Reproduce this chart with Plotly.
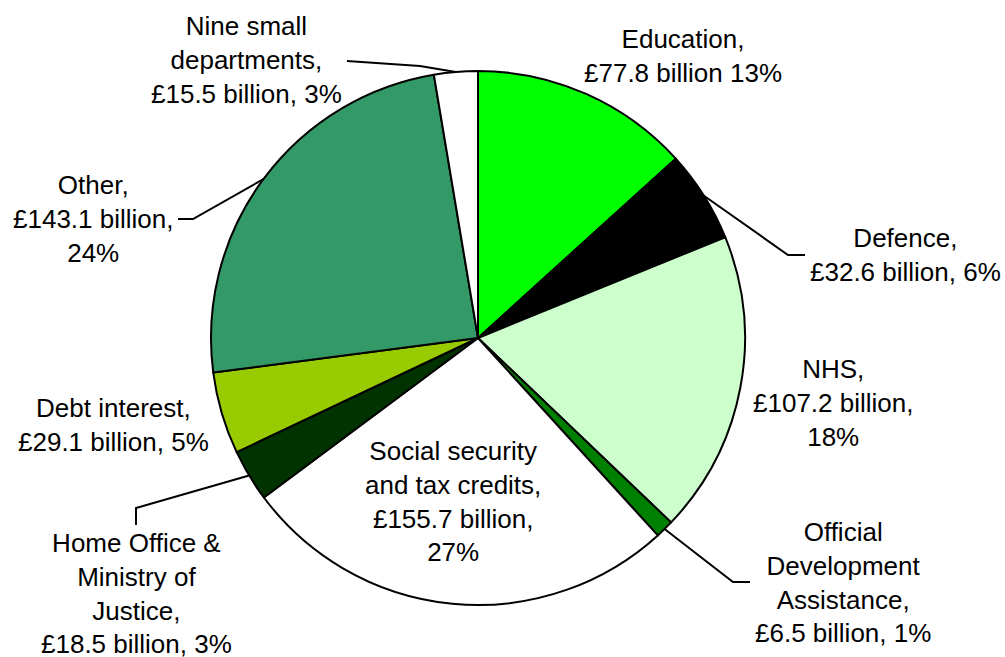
import math
import plotly.graph_objects as go

# ---- data ----
categories = ["Education", "Defence", "NHS", "Official Development Assistance",
              "Social security and tax credits", "Home Office & Ministry of Justice",
              "Debt interest", "Other", "Nine small departments"]
values = [77.8, 32.6, 107.2, 6.5, 155.7, 18.5, 29.1, 143.1, 15.5]
percents = [13, 6, 18, 1, 27, 3, 5, 24, 3]
label_names = ["Education", "Defence", "NHS", "Official<br>Development<br>Assistance",
               "Social security<br>and tax credits", "Home Office &amp;<br>Ministry of<br>Justice",
               "Debt interest", "Other", "Nine small<br>departments"]
pct_sep = [" ", ", ", ",<br>", ", ", ",<br>", ", ", ", ", ",<br>", ", "]
colors = ["#00FF00", "#000000", "#CCFFCC", "#008000", "#FFFFFF",
          "#003300", "#99CC00", "#339966", "#FFFFFF"]

# ---- layout constants (pixels) ----
W, H = 1005, 657
CX, CY, R = 478, 338, 267
FONT = dict(family="Liberation Sans, Arial, sans-serif", size=26, color="black")

label_pos = [(683, 56), (905, 255), (833, 403), (843, 582), (453, 501),
             (136, 593), (113, 425), (93, 219), (246, 60)]
# leader line waypoints after the pie-edge point (None = no leader)
leader_pts = [None, [(788, 255), (805, 255)], None, [(733, 582), (750, 582)], None,
              [(136, 508), (136, 525)], None, [(193, 219), (178, 219)],
              [(420, 66), (347, 61)]]


def px(x, y):
    return x / W, 1 - y / H


fig = go.Figure(go.Pie(
    labels=categories, values=values, sort=False, direction="clockwise", rotation=0,
    marker=dict(colors=colors, line=dict(color="black", width=2)),
    textinfo="none", hoverinfo="label+value+percent", showlegend=False,
    domain=dict(x=[(CX - R) / W, (CX + R) / W], y=[1 - (CY + R) / H, 1 - (CY - R) / H]),
))

total = sum(values)
cum = 0
annotations = []
shapes = []
for i, v in enumerate(values):
    mid = (cum + v / 2) / total * 2 * math.pi
    cum += v
    text = f"{label_names[i]},<br>£{v} billion{pct_sep[i]}{percents[i]}%"
    lx, ly = px(*label_pos[i])
    annotations.append(dict(x=lx, y=ly, xref="paper", yref="paper", text=text,
                            showarrow=False, xanchor="center", yanchor="middle",
                            align="center", font=FONT))
    if leader_pts[i]:
        sx, sy = CX + R * math.sin(mid), CY - R * math.cos(mid)
        pts = [(sx, sy)] + leader_pts[i]
        path = "M " + " L ".join(f"{px(x, y)[0]:.5f},{px(x, y)[1]:.5f}" for x, y in pts)
        shapes.append(dict(type="path", xref="paper", yref="paper", path=path,
                           line=dict(color="black", width=2)))

fig.update_layout(width=W, height=H, margin=dict(l=0, r=0, t=0, b=0),
                  paper_bgcolor="white", plot_bgcolor="white",
                  annotations=annotations, shapes=shapes)
fig.write_html("out.html")
